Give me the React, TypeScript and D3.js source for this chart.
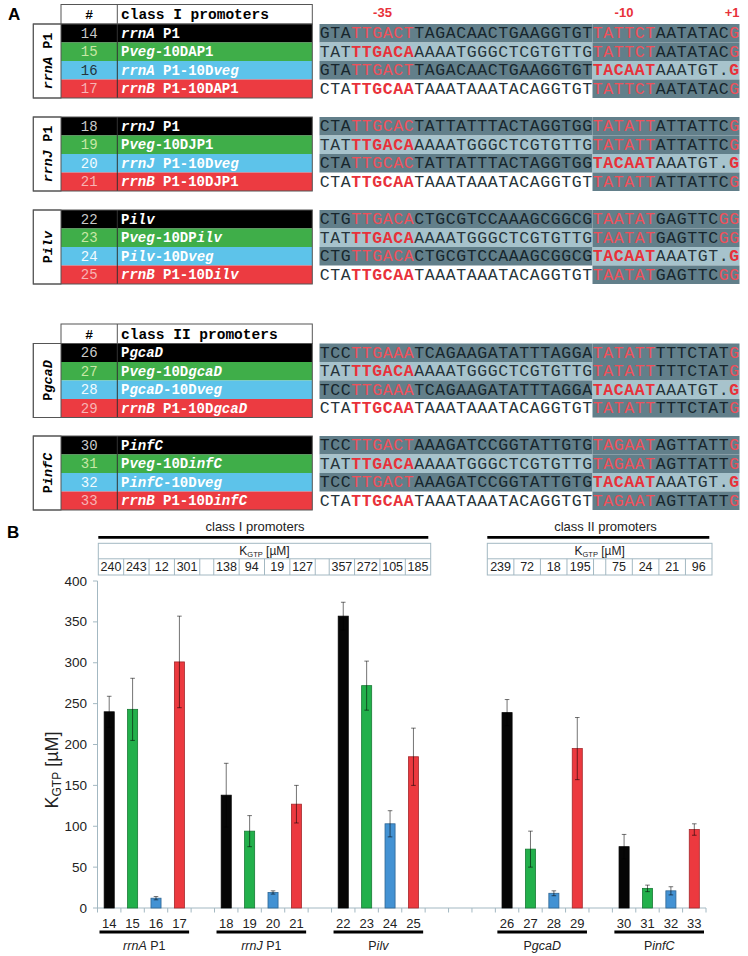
import React from "react";
import * as d3 from "d3";

// ---------------- DATA ----------------
const blockLabels = ["*rrnA* P1", "*rrnJ* P1", "P*ilv*", "P*gcaD*", "P*infC*"];
const classHeaders = ["class I promoters", "class II promoters"];

const promoterNums = [14, 15, 16, 17, 18, 19, 20, 21, 22, 23, 24, 25, 26, 27, 28, 29, 30, 31, 32, 33];
const promoterNames = [
  "*rrnA* P1", "P*veg*-10DAP1", "*rrnA* P1-10D*veg*", "*rrnB* P1-10DAP1",
  "*rrnJ* P1", "P*veg*-10DJP1", "*rrnJ* P1-10D*veg*", "*rrnB* P1-10DJP1",
  "P*ilv*", "P*veg*-10DP*ilv*", "P*ilv*-10D*veg*", "*rrnB* P1-10D*ilv*",
  "P*gcaD*", "P*veg*-10D*gcaD*", "P*gcaD*-10D*veg*", "*rrnB* P1-10D*gcaD*",
  "P*infC*", "P*veg*-10D*infC*", "P*infC*-10D*veg*", "*rrnB* P1-10D*infC*",
];
// segments alternate: plain | red | plain | red | plain | red
const sequences = [
  "GTA|TTGACT|TAGACAACTGAAGGTGT|TATTCT|AATATAC|G",
  "TAT|TTGACA|AAAATGGGCTCGTGTTG|TATTCT|AATATAC|G",
  "GTA|TTGACT|TAGACAACTGAAGGTGT|TACAAT|AAATGT.|G",
  "CTA|TTGCAA|TAAATAAATACAGGTGT|TATTCT|AATATAC|G",
  "CTA|TTGCAC|TATTATTTACTAGGTGG|TATATT|ATTATTC|G",
  "TAT|TTGACA|AAAATGGGCTCGTGTTG|TATATT|ATTATTC|G",
  "CTA|TTGCAC|TATTATTTACTAGGTGG|TACAAT|AAATGT.|G",
  "CTA|TTGCAA|TAAATAAATACAGGTGT|TATATT|ATTATTC|G",
  "CTG|TTGACA|CTGCGTCCAAAGCGGCG|TAATAT|GAGTTC|GG",
  "TAT|TTGACA|AAAATGGGCTCGTGTTG|TAATAT|GAGTTC|GG",
  "CTG|TTGACA|CTGCGTCCAAAGCGGCG|TACAAT|AAATGT.|G",
  "CTA|TTGCAA|TAAATAAATACAGGTGT|TAATAT|GAGTTC|GG",
  "TCC|TTGAAA|TCAGAAGATATTTAGGA|TATATT|TTTCTAT|G",
  "TAT|TTGACA|AAAATGGGCTCGTGTTG|TATATT|TTTCTAT|G",
  "TCC|TTGAAA|TCAGAAGATATTTAGGA|TACAAT|AAATGT.|G",
  "CTA|TTGCAA|TAAATAAATACAGGTGT|TATATT|TTTCTAT|G",
  "TCC|TTGACT|AAAGATCCGGTATTGTG|TAGAAT|AGTTATT|G",
  "TAT|TTGACA|AAAATGGGCTCGTGTTG|TAGAAT|AGTTATT|G",
  "TCC|TTGACT|AAAGATCCGGTATTGTG|TACAAT|AAATGT.|G",
  "CTA|TTGCAA|TAAATAAATACAGGTGT|TAGAAT|AGTTATT|G",
];
// background of upstream / downstream part: d = native (dark), l = Pveg/veg (light), w = rrnB (white)
const rowBackgrounds = ["dd", "ld", "dl", "wd"];
const positionLabels = ["-35", "-10", "+1"];

const kgtpTable = [240, 243, 12, 301, 138, 94, 19, 127, 357, 272, 105, 185, 239, 72, 18, 195, 75, 24, 21, 96];
const barValues = [240, 243, 12, 301, 138, 94, 19, 127, 357, 272, 103, 185, 239, 72, 18, 195, 75, 24, 21, 96];
const errValues = [19, 38, 2, 56, 39, 19, 2, 23, 17, 30, 16, 35, 16, 22, 3, 38, 15, 4, 5, 7];
const yTicks = [0, 50, 100, 150, 200, 250, 300, 350, 400];

// ---------------- STYLE ----------------
const MONO = "'Liberation Mono', 'DejaVu Sans Mono', monospace";
const SANS = "'Liberation Sans', Arial, sans-serif";
const rowColors = ["#000000", "#3fae49", "#5dc3ea", "#ec3b41"];
const numColors = ["#c9c9c9", "#c8e8a6", "#f2fbff", "#f7b4b4"];
const barColors = ["#060606", "#22b04b", "#4392d3", "#ec393f"];
const bgColor: Record<string, string> = { d: "#627f8a", l: "#a7c3cc", w: "#ffffff" };
const RED = "#e8313a";
const AXIS = "#a3b8c2";

function Rich({ text }: { text: string }) {
  return (
    <>
      {text.split("*").map((p, i) => (
        <tspan key={i} fontStyle={i % 2 ? "italic" : "normal"} style={{ whiteSpace: "pre" }}>
          {p}
        </tspan>
      ))}
    </>
  );
}

export default function App() {
  // ---------- Panel A layout ----------
  const blockTops = [24, 117, 210, 343.5, 436];
  const headerTops = [4.5, 324];
  const rowH = 18.5;
  const colL = 33.3, colN = 61, colName = 117.3, colR = 312.3;
  const seqX0 = 319.5, cw = 10.5;

  // ---------- Panel B layout ----------
  const groupStarts = [0, 5, 10, 17, 22];
  const nSlots = 26;
  const x = d3.scaleBand<number>().domain(d3.range(nSlots)).range([97.5, 706]).padding(0);
  const y = d3.scaleLinear().domain([0, 400]).range([908, 581]);
  const bw = x.bandwidth() * 0.43;
  const slotOf = (i: number) => groupStarts[Math.floor(i / 4)] + (i % 4);

  const headerBoxes = [
    { x0: 98.3, x1: 430.7, vals: kgtpTable.slice(0, 12), lineX0: 98.3, lineX1: 428.3, textX: 255, blank: 0.55 },
    { x0: 487.3, x1: 712, vals: kgtpTable.slice(12), lineX0: 487.3, lineX1: 709.3, textX: 605.5, blank: 0.46 },
  ];

  return (
    <svg width={748} height={956} style={{ position: "absolute", left: 0, top: 0, background: "#fff" }}>
      {/* Panel letters */}
      <text x={8} y={20} fontFamily={SANS} fontWeight="bold" fontSize={17}>A</text>
      <text x={7} y={538} fontFamily={SANS} fontWeight="bold" fontSize={17}>B</text>

      {/* Position labels */}
      {positionLabels.map((lab, k) => {
        const xs = [seqX0 + 6 * cw, seqX0 + 29 * cw, seqX0 + 40 * cw];
        return (
          <text key={lab} x={xs[k]} y={17} fill={RED} fontFamily={SANS} fontWeight="bold" fontSize={13}
            textAnchor={k === 2 ? "end" : "middle"}>{lab}</text>
        );
      })}

      {/* Table headers */}
      {headerTops.map((ht, k) => {
        const bt = blockTops[k === 0 ? 0 : 3];
        return (
          <g key={k}>
            <rect x={colN} y={ht} width={colR - colN} height={bt - ht} fill="#fff" stroke="#555" strokeWidth={1} />
            <line x1={colName} x2={colName} y1={ht} y2={bt} stroke="#555" />
            <text x={(colN + colName) / 2} y={bt - 5} textAnchor="middle" fontFamily={MONO} fontWeight="bold" fontSize={13}>#</text>
            <text x={121} y={bt - 5} fontFamily={MONO} fontWeight="bold" fontSize={14.5} style={{ whiteSpace: "pre" }}>{classHeaders[k]}</text>
          </g>
        );
      })}

      {/* Blocks */}
      {blockLabels.map((bl, b) => {
        const top = blockTops[b];
        const bottom = top + 4 * rowH;
        return (
          <g key={b}>
            {d3.range(4).map((r) => {
              const i = b * 4 + r;
              const ty = top + r * rowH;
              const bgs = rowBackgrounds[r];
              const segs = sequences[i].split("|");
              let pos = 0;
              const segEls = segs.map((s, si) => {
                const start = pos;
                pos += s.length;
                const isRed = si % 2 === 1;
                const bgKey = start < 26 ? bgs[0] : bgs[1];
                const onDark = bgKey === "d";
                const xs = s.split("").map((_, ci) => (seqX0 + (start + ci + 0.5) * cw).toFixed(2)).join(" ");
                return (
                  <text key={si} x={xs} y={ty + 14.2} textAnchor="middle" fontFamily={MONO} fontSize={16.5}
                    fill={isRed ? (onDark ? "#f0505a" : RED) : onDark ? "#17262d" : "#26343a"}
                    fontWeight={isRed && !onDark ? "bold" : "normal"}>
                    {s}
                  </text>
                );
              });
              return (
                <g key={r}>
                  <rect x={colN} y={ty} width={colR - colN} height={rowH} fill={rowColors[r]} />
                  <text x={(colN + colName) / 2} y={ty + 13.5} textAnchor="middle" fontFamily={MONO} fontSize={14}
                    fill={i === 2 ? "#24343c" : numColors[r]}>{promoterNums[i]}</text>
                  <text x={121} y={ty + 13.5} fontFamily={MONO} fontWeight="bold" fontSize={14} fill="#fff">
                    <Rich text={promoterNames[i]} />
                  </text>
                  {bgs[0] !== "w" && (
                    <rect x={seqX0} y={ty} width={26 * cw} height={rowH} fill={bgColor[bgs[0]]} />
                  )}
                  {bgs[1] !== "w" && (
                    <rect x={seqX0 + 26 * cw} y={ty} width={14 * cw} height={rowH} fill={bgColor[bgs[1]]} />
                  )}
                  {segEls}
                </g>
              );
            })}
            <rect x={colL} y={top} width={colN - colL} height={bottom - top} fill="#fff" stroke="#555" />
            <line x1={colName} x2={colName} y1={top} y2={bottom} stroke="#333" />
            <rect x={colL} y={top} width={colR - colL} height={bottom - top} fill="none" stroke="#555" />
            <text transform={`translate(${(colL + colN) / 2 + 0.5},${(top + bottom) / 2}) rotate(-90)`}
              textAnchor="middle" dominantBaseline="central" fontFamily={MONO} fontWeight="bold" fontSize={13.5}>
              <Rich text={bl} />
            </text>
          </g>
        );
      })}

      {/* ---------- Panel B ---------- */}
      {headerBoxes.map((hb, k) => {
        const weights = hb.vals.map(() => 1);
        const cells: { v: number | null; w: number }[] = [];
        hb.vals.forEach((v, j) => {
          cells.push({ v, w: 1 });
          if (j % 4 === 3 && j < hb.vals.length - 1) cells.push({ v: null, w: hb.blank });
        });
        const tw = d3.sum(cells, (c) => c.w);
        const unit = (hb.x1 - hb.x0) / tw;
        let cx = hb.x0;
        const yTop = 543.3, yMid = 558.8, yBot = 575;
        void weights;
        return (
          <g key={k}>
            <text x={hb.textX} y={531} textAnchor="middle" fontFamily={SANS} fontSize={13} fill="#222">{classHeaders[k]}</text>
            <line x1={hb.lineX0} x2={hb.lineX1} y1={537.3} y2={537.3} stroke="#000" strokeWidth={2.8} />
            <rect x={hb.x0} y={yTop} width={hb.x1 - hb.x0} height={yBot - yTop} fill="#fff" stroke={AXIS} />
            <line x1={hb.x0} x2={hb.x1} y1={yMid} y2={yMid} stroke={AXIS} />
            <text x={(hb.x0 + hb.x1) / 2} y={555} textAnchor="middle" fontFamily={SANS} fontSize={12} fill="#222">
              K<tspan fontSize={7.5} dy={2}>GTP</tspan><tspan dy={-2} style={{ whiteSpace: "pre" }}> [µM]</tspan>
            </text>
            {cells.map((c, j) => {
              const x0 = cx;
              cx += c.w * unit;
              return (
                <g key={j}>
                  {j > 0 && <line x1={x0} x2={x0} y1={yMid} y2={yBot} stroke={AXIS} />}
                  {c.v !== null && (
                    <text x={x0 + (c.w * unit) / 2} y={571} textAnchor="middle" fontFamily={SANS} fontSize={12.5} fill="#222">{c.v}</text>
                  )}
                </g>
              );
            })}
          </g>
        );
      })}

      {/* Y axis */}
      <line x1={97.5} x2={97.5} y1={y(400)} y2={y(0)} stroke={AXIS} />
      {yTicks.map((t) => (
        <g key={t}>
          <line x1={93} x2={97.5} y1={y(t)} y2={y(t)} stroke={AXIS} />
          <text x={87} y={y(t) + 4.5} textAnchor="end" fontFamily={SANS} fontSize={13.5} fill="#222">{t}</text>
        </g>
      ))}
      <text transform={`translate(58,770) rotate(-90)`} textAnchor="middle" fontFamily={SANS} fontSize={18} fill="#222">
        K<tspan fontSize={12} dy={3}>GTP</tspan><tspan dy={-3} style={{ whiteSpace: "pre" }}> [µM]</tspan>
      </text>

      {/* X axis */}
      <line x1={x(0)!} x2={x(nSlots - 1)! + x.bandwidth()} y1={y(0)} y2={y(0)} stroke={AXIS} />
      {d3.range(nSlots + 1).map((s) => {
        const xx = x(0)! + s * x.bandwidth();
        return <line key={s} x1={xx} x2={xx} y1={y(0)} y2={y(0) + 4.5} stroke={AXIS} />;
      })}

      {/* Bars and error bars */}
      {barValues.map((v, i) => {
        const s = slotOf(i);
        const cxm = x(s)! + x.bandwidth() / 2;
        const col = barColors[i % 4];
        const e = errValues[i];
        return (
          <g key={i}>
            <rect x={cxm - bw / 2} y={y(v)} width={bw} height={y(0) - y(v)} fill={col}
              stroke={d3.color(col)!.darker(1).toString()} strokeWidth={0.8} />
            <g stroke="#000" strokeOpacity={0.55} strokeWidth={1}>
              <line x1={cxm} x2={cxm} y1={y(v + e)} y2={y(Math.max(0, v - e))} />
              <line x1={cxm - 2.3} x2={cxm + 2.3} y1={y(v + e)} y2={y(v + e)} />
              <line x1={cxm - 2.3} x2={cxm + 2.3} y1={y(Math.max(0, v - e))} y2={y(Math.max(0, v - e))} />
            </g>
            <text x={cxm} y={928} textAnchor="middle" fontFamily={SANS} fontSize={13} fill="#222">{promoterNums[i]}</text>
          </g>
        );
      })}

      {/* Group underlines */}
      {blockLabels.map((bl, g) => {
        const s0 = groupStarts[g];
        const xa = x(s0)! + 2;
        const xb = x(s0 + 3)! + x.bandwidth() - 2;
        return (
          <g key={g}>
            <line x1={xa} x2={xb} y1={932} y2={932} stroke="#000" strokeWidth={2.8} />
            <text x={(xa + xb) / 2} y={950} textAnchor="middle" fontFamily={SANS} fontSize={12.5} fill="#222">
              <Rich text={bl} />
            </text>
          </g>
        );
      })}
    </svg>
  );
}
